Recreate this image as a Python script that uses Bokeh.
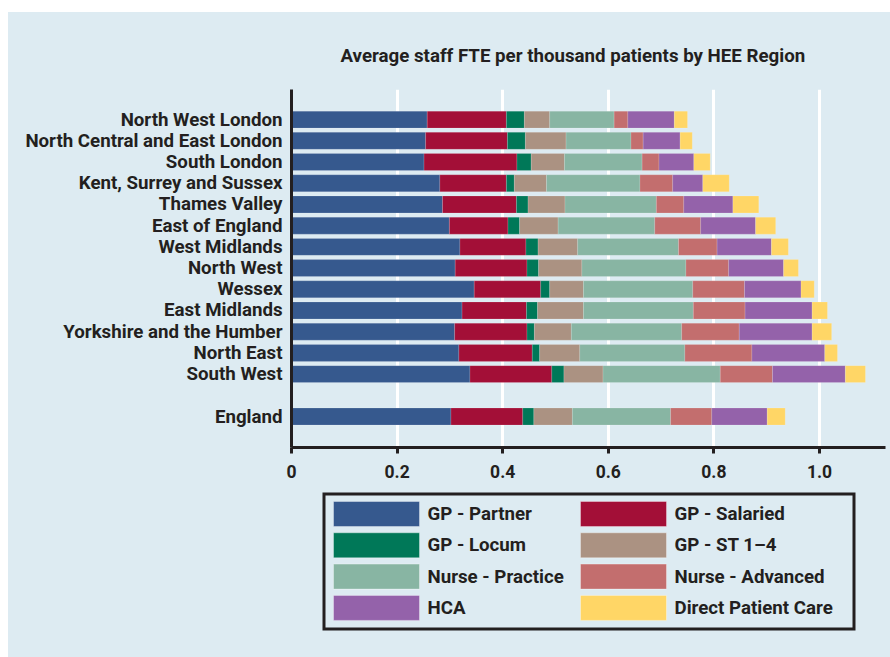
from bokeh.plotting import figure
from bokeh.models import ColumnDataSource, FixedTicker, Range1d, Spacer
from bokeh.layouts import column, row
from bokeh.core.properties import value
from bokeh.embed import file_html
from bokeh.resources import INLINE

regions = ["North West London", "North Central and East London", "South London",
           "Kent, Surrey and Sussex", "Thames Valley", "East of England", "West Midlands",
           "North West", "Wessex", "East Midlands", "Yorkshire and the Humber",
           "North East", "South West", "England"]

gp_partner     = [0.257, 0.254, 0.251, 0.281, 0.286, 0.299, 0.319, 0.310, 0.346, 0.323, 0.309, 0.317, 0.338, 0.302]
gp_salaried    = [0.150, 0.155, 0.176, 0.126, 0.140, 0.111, 0.125, 0.136, 0.126, 0.122, 0.137, 0.139, 0.155, 0.136]
gp_locum       = [0.034, 0.034, 0.027, 0.015, 0.022, 0.022, 0.023, 0.022, 0.017, 0.021, 0.014, 0.014, 0.023, 0.021]
gp_st          = [0.048, 0.077, 0.063, 0.061, 0.070, 0.073, 0.075, 0.082, 0.064, 0.087, 0.070, 0.076, 0.074, 0.073]
nurse_practice = [0.122, 0.123, 0.147, 0.177, 0.173, 0.183, 0.191, 0.197, 0.207, 0.208, 0.209, 0.199, 0.222, 0.186]
nurse_advanced = [0.026, 0.023, 0.032, 0.062, 0.052, 0.087, 0.073, 0.081, 0.098, 0.098, 0.109, 0.127, 0.099, 0.078]
hca            = [0.088, 0.070, 0.066, 0.057, 0.093, 0.104, 0.103, 0.104, 0.107, 0.127, 0.138, 0.138, 0.138, 0.105]
direct_care    = [0.025, 0.023, 0.031, 0.050, 0.049, 0.038, 0.032, 0.028, 0.025, 0.029, 0.037, 0.024, 0.038, 0.034]

series_names = ["GP - Partner", "GP - Salaried", "GP - Locum", "GP - ST 1\u20134",
                "Nurse - Practice", "Nurse - Advanced", "HCA", "Direct Patient Care"]
colors = ["#36598e", "#a30f37", "#007858", "#ab9282", "#88b5a3", "#c36e6e", "#9462aa", "#ffd666"]

x_ticks = [0, 0.2, 0.4, 0.6, 0.8, 1.0]
x_tick_labels = ["0", "0.2", "0.4", "0.6", "0.8", "1.0"]

BG = "#ddebf2"
INK = "#231f20"
FONT = "Roboto"
FS = "18.7px"

# row positions: regions top to bottom, one empty row before England
n_reg = len(regions) - 1
ypos = [n_reg + 1 - i for i in range(n_reg)] + [0]

keys = ["s%d" % i for i in range(8)]
data = dict(y=ypos, name=regions)
for k, vals in zip(keys, [gp_partner, gp_salaried, gp_locum, gp_st, nurse_practice,
                          nurse_advanced, hca, direct_care]):
    data[k] = vals
source = ColumnDataSource(data)

LEFT, RIGHT = 283, 5
p = figure(width=882, height=475, x_range=Range1d(0, 1.125), y_range=Range1d(-1.46, 15.42),
           output_backend="svg", toolbar_location=None,
           min_border_left=LEFT, min_border_right=RIGHT, min_border_top=77, min_border_bottom=40,
           background_fill_color=BG, border_fill_color=BG, outline_line_color=None)

renderers = p.hbar_stack(keys, y="y", height=0.8, color=colors, source=source,
                         line_color="white", line_alpha=0.25, line_width=0.6)

p.title.text = "Average staff FTE per thousand patients by HEE Region"
p.title.align = "left"
p.title.offset = 49
p.title.text_font = FONT
p.title.text_font_style = "bold"
p.title.text_font_size = FS
p.title.text_color = INK
p.title.standoff = 45

p.xgrid.grid_line_color = "white"
p.xgrid.grid_line_width = 3
p.xgrid.ticker = FixedTicker(ticks=x_ticks)
p.ygrid.visible = False

xa = p.xaxis[0]
xa.ticker = FixedTicker(ticks=x_ticks)
xa.major_label_overrides = {t: l for t, l in zip(x_ticks, x_tick_labels)}
xa.axis_line_width = 3
xa.axis_line_color = INK
xa.major_tick_line_width = 3
xa.major_tick_line_color = INK
xa.major_tick_out = 6
xa.major_tick_in = 0
xa.minor_tick_line_color = None
xa.major_label_text_font = FONT
xa.major_label_text_font_style = "bold"
xa.major_label_text_font_size = "17.5px"
xa.major_label_text_color = INK
xa.major_label_standoff = 11

ya = p.yaxis[0]
ya.ticker = FixedTicker(ticks=ypos)
ya.major_label_overrides = {y: r for y, r in zip(ypos, regions)}
ya.axis_line_width = 3
ya.axis_line_color = INK
ya.major_tick_line_color = None
ya.minor_tick_line_color = None
ya.major_tick_out = 0
ya.major_tick_in = 0
ya.major_label_text_font = FONT
ya.major_label_text_font_style = "bold"
ya.major_label_text_font_size = FS
ya.major_label_text_color = INK
ya.major_label_standoff = 9

# ---- legend panel: data units equal this panel's pixels (y downward) ----
LW, LH = 882, 170
q = figure(width=LW, height=LH, x_range=Range1d(LEFT, LW - RIGHT), y_range=Range1d(LH, 0),
           output_backend="svg", toolbar_location=None,
           min_border_left=LEFT, min_border_right=RIGHT, min_border_top=0, min_border_bottom=0,
           background_fill_color=BG, border_fill_color=BG, outline_line_color=None)
q.axis.visible = False
q.grid.visible = False

box_l, box_r, box_t, box_b = 315.5, 845.5, 6.5, 141.5
col_x = [325, 572]
row_top0, row_pitch = 14, 31.3
sw_w, sw_h, standoff = 86, 25, 8

sw_left, sw_top, lab_x, lab_y = [], [], [], []
for i in range(len(series_names)):
    c, r = i % 2, i // 2
    sw_left.append(col_x[c])
    sw_top.append(row_top0 + r * row_pitch)
    lab_x.append(col_x[c] + sw_w + standoff)
    lab_y.append(row_top0 + r * row_pitch + sw_h / 2)

q.quad(left=[box_l], right=[box_r], top=[box_t], bottom=[box_b],
       fill_color=None, line_color=INK, line_width=3, line_join="miter")
q.quad(left=sw_left, right=[v + sw_w for v in sw_left], top=sw_top,
       bottom=[v + sw_h for v in sw_top], fill_color=colors,
       line_color="white", line_alpha=0.35, line_width=1)
q.text(x=lab_x, y=lab_y, text=series_names, text_font=value(FONT),
       text_font_style="bold", text_font_size=FS, text_color=INK,
       text_baseline="middle", text_align="left")

panel = column(p, q, styles={"background-color": BG})
layout = column(Spacer(width=890, height=12, styles={"background-color": "white"}),
                row(Spacer(width=8, height=645, styles={"background-color": "white"}), panel))
open("out.html", "w").write(file_html(layout, INLINE))
